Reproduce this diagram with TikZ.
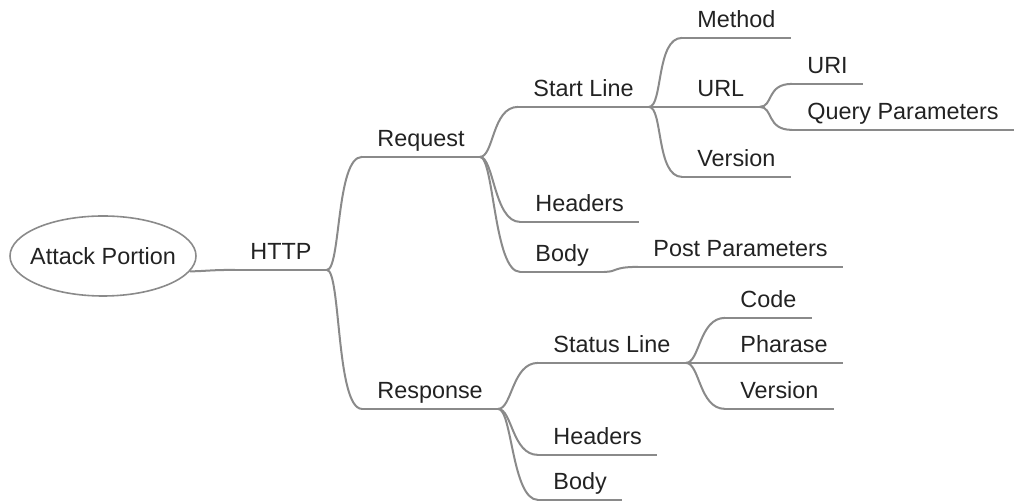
\documentclass[tikz,border=0pt]{standalone}
\usepackage{fontspec}
\setmainfont{Liberation Sans}
\usepackage{tikz}
\usetikzlibrary{shapes.geometric}
\definecolor{linegray}{HTML}{8A8A8A}
\definecolor{textgray}{HTML}{222222}

\begin{document}
\begin{tikzpicture}[x=0.5pt, y=-0.5pt]
	\useasboundingbox (0,0) rectangle (1019,501);
	\node[ellipse, draw=linegray, line width=0.8pt, inner sep=0pt, minimum width=93pt, minimum height=40pt,
	      text=textgray, font=\fontsize{11.7}{14}\selectfont] (root) at (103,256) {\makebox[0pt]{Attack Portion}};

	\begin{scope}[every node/.style={anchor=base west, inner xsep=7.5pt, inner ysep=4.75pt,
	              text height=8.5pt, text depth=0pt, text=textgray,
	              font=\fontsize{11.7}{14}\selectfont}]
		\node (http) at (235,260) {HTTP};
		\node (req) at (362,147) {Request};
		\node (resp) at (362,399) {Response};
		\node (start) at (518,97) {Start Line};
		\node (reqhead) at (520,212) {Headers};
		\node (reqbody) at (520,262) {Body};
		\node (post) at (638,257) {Post Parameters};
		\node (method) at (682,28) {Method};
		\node (url) at (682,97) {URL};
		\node (ver) at (682,167) {Version};
		\node (uri) at (792,74) {URI};
		\node (query) at (792,120) {Query Parameters};
		\node (status) at (538,353) {Status Line};
		\node (resphead) at (538,445) {Headers};
		\node (respbody) at (538,490) {Body};
		\node (code) at (725,308) {Code};
		\node (phr) at (725,353) {Pharase};
		\node (ver2) at (725,399) {Version};
	\end{scope}

	\begin{scope}[every edge/.style={draw=linegray, line width=1pt,
	              to path={.. controls +(14,0) and +(-26,0) .. (\tikztotarget)}}]
		% underlines
		\foreach \n in {http,req,resp,start,reqhead,reqbody,post,method,url,ver,uri,query,
		                status,resphead,respbody,code,phr,ver2}
			\draw[linegray, line width=1pt] (\n.south west) -- (\n.south east);
		% branches
		\path (root.-10) edge (http.south west);
		\path (http.south east) edge (req.south west);
		\path (http.south east) edge (resp.south west);
		\path (req.south east) edge (start.south west);
		\path (req.south east) edge (reqhead.south west);
		\path (req.south east) edge (reqbody.south west);
		\path (reqbody.south east) edge (post.south west);
		\path (start.south east) edge (method.south west);
		\path (start.south east) edge (url.south west);
		\path (start.south east) edge (ver.south west);
		\path (url.south east) edge (uri.south west);
		\path (url.south east) edge (query.south west);
		\path (resp.south east) edge (status.south west);
		\path (resp.south east) edge (resphead.south west);
		\path (resp.south east) edge (respbody.south west);
		\path (status.south east) edge (code.south west);
		\path (status.south east) edge (phr.south west);
		\path (status.south east) edge (ver2.south west);
	\end{scope}
\end{tikzpicture}
\end{document}
